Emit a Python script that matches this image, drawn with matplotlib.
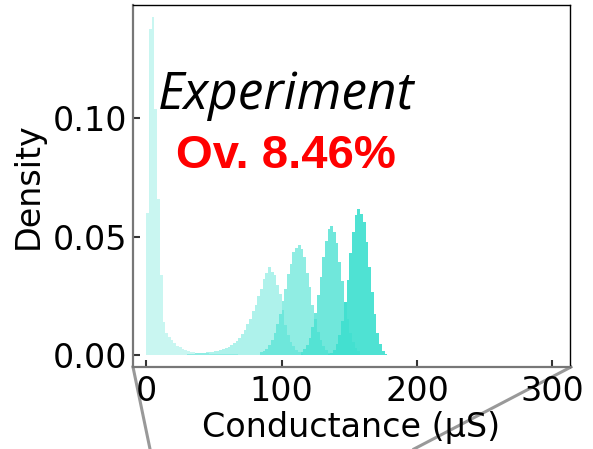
import numpy as np
import matplotlib.pyplot as plt
from matplotlib.lines import Line2D

plt.rcParams['font.family'] = ['DejaVu Sans']

# 电导分布直方图（密度），每组 2 μS 一个 bin
bin_w = 2.0

# 第 1 组：低电导态（起始 bin 左边界 0）
s1_start = 0
s1_vals = [0.060, 0.138, 0.143, 0.104, 0.066, 0.034, 0.014, 0.0095, 0.0078, 0.0062,
           0.0050, 0.0040, 0.0032, 0.0026, 0.0021, 0.0017, 0.0014, 0.0012, 0.0010, 0.0009,
           0.0008, 0.0007, 0.0007, 0.0006, 0.0006, 0.0005, 0.0005, 0.0005, 0.0004, 0.0004,
           0.0004, 0.0003, 0.0003, 0.0003, 0.0002, 0.0002]

# 第 2 组：峰值约 90 μS
s2_start = 30
s2_vals = [0.0004, 0.0005, 0.0006, 0.0007, 0.0008, 0.0009, 0.0010, 0.0011, 0.0012, 0.0014,
           0.0016, 0.0018, 0.0021, 0.0024, 0.0029, 0.0035, 0.0041, 0.0049, 0.0059, 0.0072,
           0.0088, 0.0106, 0.0130, 0.0152, 0.0185, 0.0210, 0.0250, 0.0280, 0.0322, 0.0345,
           0.0372, 0.0352, 0.0338, 0.0298, 0.0257, 0.0190, 0.0128, 0.0085, 0.0056, 0.0036,
           0.0021, 0.0011, 0.0005]

# 第 3 组：峰值约 113 μS
s3_start = 84
s3_vals = [0.0012, 0.0018, 0.0026, 0.0041, 0.0063, 0.0092, 0.0132, 0.0172, 0.0230, 0.0280,
           0.0342, 0.0385, 0.0435, 0.0452, 0.0466, 0.0448, 0.0414, 0.0348, 0.0286, 0.0210,
           0.0153, 0.0099, 0.0064, 0.0037, 0.0020, 0.0008]

# 第 4 组：峰值约 137 μS
s4_start = 114
s4_vals = [0.0013, 0.0024, 0.0043, 0.0074, 0.0118, 0.0178, 0.0252, 0.0328, 0.0416, 0.0480,
           0.0534, 0.0547, 0.0522, 0.0473, 0.0392, 0.0312, 0.0222, 0.0154, 0.0095, 0.0056,
           0.0031, 0.0016]

# 第 5 组：峰值约 157 μS
s5_start = 134
s5_vals = [0.0004, 0.0010, 0.0023, 0.0046, 0.0084, 0.0143, 0.0225, 0.0318, 0.0432, 0.0522,
           0.0590, 0.0619, 0.0596, 0.0564, 0.0478, 0.0372, 0.0268, 0.0172, 0.0095, 0.0045,
           0.0015, 0.0004]

series = [(s1_start, s1_vals), (s2_start, s2_vals), (s3_start, s3_vals),
          (s4_start, s4_vals), (s5_start, s5_vals)]
alphas = [0.28, 0.42, 0.58, 0.75, 0.92]

fig = plt.figure(figsize=(5.93, 4.49), dpi=100)
ax = fig.add_axes([0.224, 0.183, 0.737, 0.806])

for (start, vals), a in zip(series, alphas):
    edges = start + bin_w * np.arange(len(vals) + 1)
    ax.stairs(vals, edges, fill=True, color='turquoise', alpha=a, linewidth=0)

ax.set_xlim(-10, 313)
ax.set_ylim(-0.005, 0.148)
ax.set_xticks([0, 100, 200, 300])
ax.set_yticks([0.00, 0.05, 0.10])
ax.set_yticklabels(['0.00', '0.05', '0.10'])
ax.tick_params(direction='in', length=5, width=1.5, labelsize=24, color='#333333')
ax.tick_params(axis='x', pad=6)
ax.tick_params(axis='y', pad=4)
ax.set_xlabel('Conductance (μS)', fontsize=24, labelpad=2)
ax.set_ylabel('Density', fontsize=24, labelpad=6)

for side in ['top', 'right']:
    ax.spines[side].set_color('black')
    ax.spines[side].set_linewidth(1.0)
for side in ['left', 'bottom']:
    ax.spines[side].set_color('#777777')
    ax.spines[side].set_linewidth(1.6)

ax.text(103, 0.1038, 'Experiment', fontsize=37, style='italic', ha='center',
        va='baseline', family=['Open Sans', 'DejaVu Sans'])
ax.text(103, 0.0792, 'Ov. 8.46%', fontsize=34, fontweight='bold', color='red',
        ha='center', va='baseline', family=['Liberation Sans', 'DejaVu Sans'])

# 放大框的连接线
fig.add_artist(Line2D([133 / 593, 150 / 593], [1 - 367 / 449, 0.0],
                      transform=fig.transFigure, color='#999999', lw=2.2, zorder=0))
fig.add_artist(Line2D([571 / 593, 414 / 593], [1 - 367 / 449, 0.0],
                      transform=fig.transFigure, color='#999999', lw=2.2, zorder=0))

fig.savefig('out.png', dpi=100)
